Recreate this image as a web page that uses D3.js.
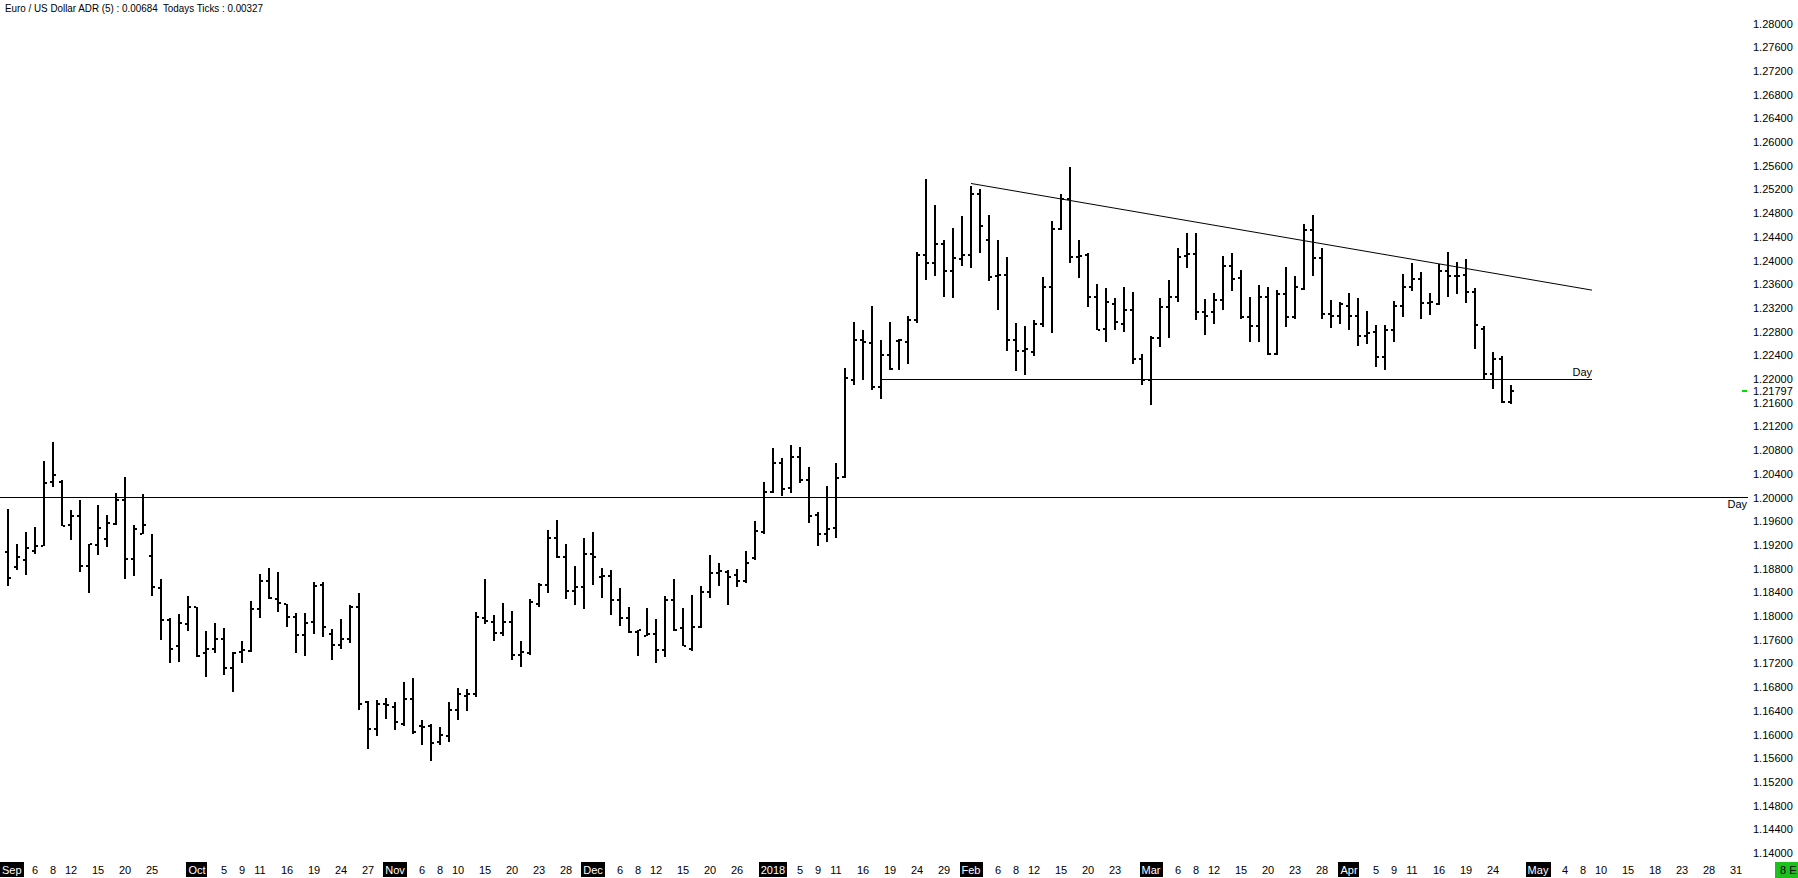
<!DOCTYPE html>
<html>
<head>
<meta charset="utf-8">
<script src="https://cdn.jsdelivr.net/npm/d3@7/dist/d3.min.js"></script>
<style>
  html, body { margin: 0; padding: 0; background: #fff; }
  svg { display: block; font-family: "Liberation Sans", Arial, sans-serif; }
  text { white-space: pre; }
</style>
</head>
<body>
<script>
// ---------- DATA ----------
const titleText = "Euro / US Dollar ADR (5) : 0.00684  Todays Ticks : 0.00327";
const calendarStart = "2017-09-01";
const calendarEnd = "2018-05-31";
const skippedDates = ["2017-12-25", "2018-01-01"];

const opens = [1.1908,1.1883,1.1894,1.1910,1.1918,1.2026,1.2026,1.1954,1.1968,1.1884,
1.1920,1.1930,1.1955,1.1996,1.1896,1.1939,1.1901,1.1847,1.1793,1.1749,
1.1787,1.1815,1.1738,1.1745,1.1762,1.1712,1.1739,1.1741,1.1811,1.1859,
1.1829,1.1821,1.1798,1.1768,1.1790,1.1852,1.1770,1.1751,1.1762,1.1815,
1.1655,1.1609,1.1651,1.1646,1.1618,1.1660,1.1615,1.1614,1.1587,1.1597,
1.1641,1.1665,1.1669,1.1797,1.1790,1.1771,1.1790,1.1734,1.1737,1.1821,
1.1852,1.1932,1.1900,1.1842,1.1849,1.1904,1.1865,1.1867,1.1827,1.1796,
1.1773,1.1766,1.1770,1.1742,1.1827,1.1779,1.1744,1.1782,1.1841,1.1872,
1.1874,1.1869,1.1859,1.1898,1.1942,1.2010,1.2059,1.2016,1.2069,1.2030,
1.1971,1.1938,1.1949,1.2034,1.2199,1.2266,1.2261,1.2186,1.2240,1.2264,
1.2263,1.2300,1.2409,1.2396,1.2428,1.2383,1.2403,1.2409,1.2513,1.2435,
1.2373,1.2375,1.2265,1.2248,1.2245,1.2292,1.2355,1.2454,1.2504,1.2406,
1.2409,1.2339,1.2285,1.2326,1.2293,1.2317,1.2233,1.2198,1.2270,1.2321,
1.2338,1.2407,1.2411,1.2313,1.2313,1.2333,1.2391,1.2371,1.2305,1.2289,
1.2338,1.2242,1.2344,1.2304,1.2352,1.2451,1.2404,1.2310,1.2307,1.2324,
1.2306,1.2273,1.2280,1.2237,1.2283,1.2323,1.2356,1.2369,1.2328,1.2327,
1.2383,1.2373,1.2376,1.2346,1.2284,1.2208,1.2233,1.2161];

const highs = [1.1980,1.1922,1.1941,1.1951,1.2061,1.2093,1.2030,1.1979,1.1995,1.1922,
1.1988,1.1970,1.2007,1.2035,1.1954,1.2006,1.1938,1.1862,1.1796,1.1804,
1.1833,1.1816,1.1774,1.1789,1.1779,1.1739,1.1757,1.1826,1.1871,1.1881,
1.1875,1.1821,1.1805,1.1805,1.1858,1.1858,1.1778,1.1795,1.1818,1.1838,
1.1657,1.1659,1.1662,1.1655,1.1688,1.1695,1.1625,1.1617,1.1612,1.1655,
1.1679,1.1676,1.1806,1.1862,1.1802,1.1822,1.1809,1.1758,1.1828,1.1856,
1.1945,1.1962,1.1921,1.1884,1.1932,1.1941,1.1881,1.1877,1.1847,1.1816,
1.1776,1.1813,1.1795,1.1833,1.1863,1.1813,1.1835,1.1850,1.1903,1.1890,
1.1877,1.1879,1.1910,1.1960,1.2026,1.2083,1.2067,1.2089,1.2085,1.2051,
1.1976,1.2019,1.2059,1.2218,1.2296,1.2283,1.2324,1.2265,1.2296,1.2267,
1.2307,1.2414,1.2538,1.2494,1.2434,1.2455,1.2475,1.2525,1.2520,1.2476,
1.2435,1.2406,1.2294,1.2289,1.2299,1.2372,1.2467,1.2512,1.2557,1.2435,
1.2413,1.2361,1.2353,1.2337,1.2356,1.2347,1.2243,1.2273,1.2337,1.2367,
1.2421,1.2447,1.2447,1.2335,1.2345,1.2408,1.2413,1.2384,1.2338,1.2359,
1.2356,1.2350,1.2389,1.2374,1.2462,1.2477,1.2421,1.2334,1.2330,1.2345,
1.2336,1.2314,1.2291,1.2291,1.2331,1.2377,1.2395,1.2381,1.2345,1.2394,
1.2414,1.2398,1.2402,1.2354,1.2290,1.2246,1.2239,1.2190];

const lows = [1.1851,1.1877,1.1869,1.1905,1.1918,1.2017,1.1952,1.1929,1.1875,1.1839,
1.1903,1.1917,1.1953,1.1863,1.1868,1.1938,1.1834,1.1760,1.1720,1.1723,
1.1775,1.1731,1.1697,1.1738,1.1701,1.1672,1.1721,1.1740,1.1797,1.1829,
1.1807,1.1782,1.1738,1.1733,1.1769,1.1765,1.1726,1.1744,1.1755,1.1642,
1.1576,1.1597,1.1626,1.1608,1.1615,1.1601,1.1583,1.1555,1.1582,1.1587,
1.1625,1.1640,1.1664,1.1787,1.1758,1.1767,1.1725,1.1714,1.1735,1.1816,
1.1839,1.1898,1.1829,1.1819,1.1811,1.1853,1.1831,1.1802,1.1783,1.1772,
1.1733,1.1766,1.1720,1.1731,1.1774,1.1749,1.1741,1.1780,1.1831,1.1851,
1.1819,1.1849,1.1856,1.1895,1.1939,1.2007,1.2003,1.2007,1.2024,1.1957,
1.1918,1.1925,1.1932,1.2033,1.2190,1.2198,1.2181,1.2167,1.2216,1.2216,
1.2226,1.2294,1.2367,1.2373,1.2338,1.2337,1.2390,1.2388,1.2412,1.2365,
1.2317,1.2247,1.2214,1.2207,1.2238,1.2287,1.2278,1.2451,1.2396,1.2371,
1.2321,1.2282,1.2262,1.2282,1.2280,1.2226,1.2190,1.2156,1.2254,1.2270,
1.2330,1.2387,1.2300,1.2274,1.2293,1.2317,1.2349,1.2301,1.2262,1.2262,
1.2241,1.2241,1.2287,1.2301,1.2351,1.2374,1.2301,1.2286,1.2293,1.2283,
1.2256,1.2259,1.2220,1.2216,1.2262,1.2304,1.2349,1.2301,1.2308,1.2325,
1.2338,1.2344,1.2329,1.2250,1.2200,1.2183,1.2159,1.2158];

const closes = [1.1864,1.1900,1.1915,1.1918,1.2025,1.2038,1.1952,1.1969,1.1885,1.1921,
1.1949,1.1957,1.1996,1.1897,1.1946,1.1953,1.1849,1.1794,1.1745,1.1788,
1.1816,1.1732,1.1745,1.1761,1.1712,1.1738,1.1742,1.1811,1.1859,1.1831,
1.1822,1.1798,1.1768,1.1789,1.1851,1.1782,1.1751,1.1762,1.1816,1.1651,
1.1609,1.1651,1.1649,1.1621,1.1660,1.1604,1.1613,1.1586,1.1599,1.1641,
1.1668,1.1668,1.1798,1.1792,1.1771,1.1790,1.1734,1.1739,1.1824,1.1852,
1.1932,1.1900,1.1842,1.1849,1.1904,1.1900,1.1868,1.1827,1.1796,1.1773,
1.1776,1.1770,1.1743,1.1827,1.1776,1.1749,1.1782,1.1841,1.1872,1.1876,
1.1866,1.1859,1.1890,1.1943,1.2010,1.2059,1.2015,1.2069,1.2029,1.1968,
1.1938,1.1947,1.2033,1.2202,1.2265,1.2263,1.2186,1.2240,1.2217,1.2265,
1.2299,1.2409,1.2395,1.2428,1.2383,1.2404,1.2409,1.2513,1.2458,1.2372,
1.2375,1.2265,1.2248,1.2251,1.2293,1.2355,1.2454,1.2504,1.2406,1.2408,
1.2339,1.2283,1.2330,1.2296,1.2317,1.2233,1.2198,1.2269,1.2321,1.2338,
1.2406,1.2411,1.2313,1.2307,1.2333,1.2391,1.2369,1.2305,1.2290,1.2338,
1.2242,1.2344,1.2304,1.2355,1.2451,1.2404,1.2310,1.2307,1.2326,1.2306,
1.2273,1.2277,1.2237,1.2283,1.2323,1.2356,1.2369,1.2328,1.2330,1.2383,
1.2373,1.2374,1.2346,1.2291,1.2208,1.2233,1.2161,1.21797];

const priceTicks = [1.28,1.276,1.272,1.268,1.264,1.26,1.256,1.252,1.248,1.244,1.24,1.236,
1.232,1.228,1.224,1.22,1.216,1.212,1.208,1.204,1.2,1.196,1.192,1.188,1.184,1.18,
1.176,1.172,1.168,1.164,1.16,1.156,1.152,1.148,1.144,1.14];
const lastPrice = 1.21797;

// [date, label, boxed]
const dateTicks = [
 ["2017-09-01","Sep",true],["2017-09-06","6"],["2017-09-08","8"],["2017-09-12","12"],["2017-09-15","15"],["2017-09-20","20"],["2017-09-25","25"],
 ["2017-10-02","Oct",true],["2017-10-05","5"],["2017-10-09","9"],["2017-10-11","11"],["2017-10-16","16"],["2017-10-19","19"],["2017-10-24","24"],["2017-10-27","27"],
 ["2017-11-01","Nov",true],["2017-11-06","6"],["2017-11-08","8"],["2017-11-10","10"],["2017-11-15","15"],["2017-11-20","20"],["2017-11-23","23"],["2017-11-28","28"],
 ["2017-12-01","Dec",true],["2017-12-06","6"],["2017-12-08","8"],["2017-12-12","12"],["2017-12-15","15"],["2017-12-20","20"],["2017-12-26","26"],
 ["2018-01-02","2018",true],["2018-01-05","5"],["2018-01-09","9"],["2018-01-11","11"],["2018-01-16","16"],["2018-01-19","19"],["2018-01-24","24"],["2018-01-29","29"],
 ["2018-02-01","Feb",true],["2018-02-06","6"],["2018-02-08","8"],["2018-02-12","12"],["2018-02-15","15"],["2018-02-20","20"],["2018-02-23","23"],
 ["2018-03-01","Mar",true],["2018-03-06","6"],["2018-03-08","8"],["2018-03-12","12"],["2018-03-15","15"],["2018-03-20","20"],["2018-03-23","23"],["2018-03-28","28"],
 ["2018-04-02","Apr",true],["2018-04-05","5"],["2018-04-09","9"],["2018-04-11","11"],["2018-04-16","16"],["2018-04-19","19"],["2018-04-24","24"],
 ["2018-05-01","May",true],["2018-05-04","4"],["2018-05-08","8"],["2018-05-10","10"],["2018-05-15","15"],["2018-05-18","18"],["2018-05-23","23"],["2018-05-28","28"],["2018-05-31","31"]
];

// drawn lines: [startDate, startPrice, endDate, endPrice]
const trendLine = ["2018-02-01", 1.2530, "2018-05-09", 1.2350];
const dayLine122 = ["2018-01-18", 1.2200, "2018-05-09", 1.2200];
const dayLevel = 1.2000;
const symbolTag = "8 E";

// ---------- BUILD ----------
const W = 1798, H = 878;
const fmt = d3.utcFormat("%Y-%m-%d");
const tradingDays = d3.utcDay.range(new Date(calendarStart + "T00:00Z"), d3.utcDay.offset(new Date(calendarEnd + "T00:00Z"), 1))
  .filter(d => d.getUTCDay() !== 0 && d.getUTCDay() !== 6)
  .map(fmt)
  .filter(s => !skippedDates.includes(s));
const idx = s => tradingDays.indexOf(s);

const x = d3.scaleLinear().domain([0, tradingDays.length - 1]).range([8, 8 + 9 * (tradingDays.length - 1)]);
const y = d3.scaleLinear().domain([1.14, 1.28]).range([853, 23.5]);
const plotRight = 1748;

const svg = d3.select("body").append("svg").attr("width", W).attr("height", H)
  .attr("shape-rendering", "crispEdges");

// title
svg.append("text").attr("x", 5).attr("y", 11.5)
  .attr("font-size", 11.5).attr("fill", "#000")
  .attr("textLength", 258).attr("lengthAdjust", "spacingAndGlyphs")
  .text(titleText);

// 1.2000 level line
svg.append("line").attr("x1", 0).attr("x2", plotRight)
  .attr("y1", Math.round(y(dayLevel)) + 0.5).attr("y2", Math.round(y(dayLevel)) + 0.5)
  .attr("stroke", "#000").attr("stroke-width", 1);
svg.append("text").attr("x", plotRight - 1).attr("y", Math.round(y(dayLevel)) + 11)
  .attr("text-anchor", "end").attr("font-size", 11).text("Day");

// 1.22 line
svg.append("line")
  .attr("x1", x(idx(dayLine122[0]))).attr("x2", x(idx(dayLine122[2])))
  .attr("y1", Math.round(y(dayLine122[1])) + 0.5).attr("y2", Math.round(y(dayLine122[3])) + 0.5)
  .attr("stroke", "#000").attr("stroke-width", 1);
svg.append("text").attr("x", x(idx(dayLine122[2]))).attr("y", Math.round(y(dayLine122[3])) - 3)
  .attr("text-anchor", "end").attr("font-size", 11).text("Day");

// trend line
svg.append("line")
  .attr("x1", x(idx(trendLine[0]))).attr("x2", x(idx(trendLine[2])))
  .attr("y1", y(trendLine[1])).attr("y2", y(trendLine[3]))
  .attr("stroke", "#000").attr("stroke-width", 1).attr("shape-rendering", "auto");

// bars
const bars = opens.map((o, i) => ({ i, o, h: highs[i], l: lows[i], c: closes[i] }));
const g = svg.append("g").attr("fill", "#000");
g.selectAll("rect.hl").data(bars).join("rect").attr("class", "hl")
  .attr("x", d => x(d.i) - 1).attr("width", 2)
  .attr("y", d => Math.round(y(d.h)))
  .attr("height", d => Math.max(2, Math.round(y(d.l)) - Math.round(y(d.h))));
g.selectAll("rect.op").data(bars).join("rect").attr("class", "op")
  .attr("x", d => x(d.i) - 3).attr("width", 2)
  .attr("y", d => Math.round(y(d.o)) - 1).attr("height", 2);
g.selectAll("rect.cl").data(bars).join("rect").attr("class", "cl")
  .attr("x", d => x(d.i) + 1).attr("width", 2)
  .attr("y", d => Math.round(y(d.c)) - 1).attr("height", 2);

// price axis labels
svg.append("g").selectAll("text").data(priceTicks).join("text")
  .attr("x", 1753).attr("y", d => y(d) + 4)
  .attr("font-size", 11).attr("fill", "#000")
  .text(d => d.toFixed(5));
svg.append("text").attr("x", 1753).attr("y", y(lastPrice) + 4)
  .attr("font-size", 11).attr("fill", "#000").text(lastPrice.toFixed(5));
svg.append("rect").attr("x", 1742).attr("width", 5)
  .attr("y", Math.round(y(lastPrice)) - 1).attr("height", 2).attr("fill", "#00dd00");

// date axis labels
const dg = svg.append("g");
dateTicks.forEach(([date, label, boxed]) => {
  const cx = x(idx(date));
  const t = dg.append("text").attr("x", cx).attr("y", 873.5)
    .attr("text-anchor", "middle").attr("font-size", 11)
    .attr("fill", boxed ? "#fff" : "#000").text(label);
  if (boxed) {
    const w = t.node().getComputedTextLength();
    let bx = Math.round(cx - w / 2 - 2);
    if (bx < 0) {           // keep the first month label fully visible at the left edge
      bx = 0;
      t.attr("x", bx + 2 + w / 2);
    }
    dg.insert("rect", "text").attr("x", bx).attr("y", 862)
      .attr("width", Math.round(w + 4)).attr("height", 15).attr("fill", "#000");
  }
});

// symbol tag
svg.append("rect").attr("x", 1775).attr("y", 862).attr("width", 23).attr("height", 16).attr("fill", "#1ec01e");
svg.append("text").attr("x", 1780).attr("y", 874).attr("font-size", 11).attr("fill", "#000").text(symbolTag);
</script>
</body>
</html>
